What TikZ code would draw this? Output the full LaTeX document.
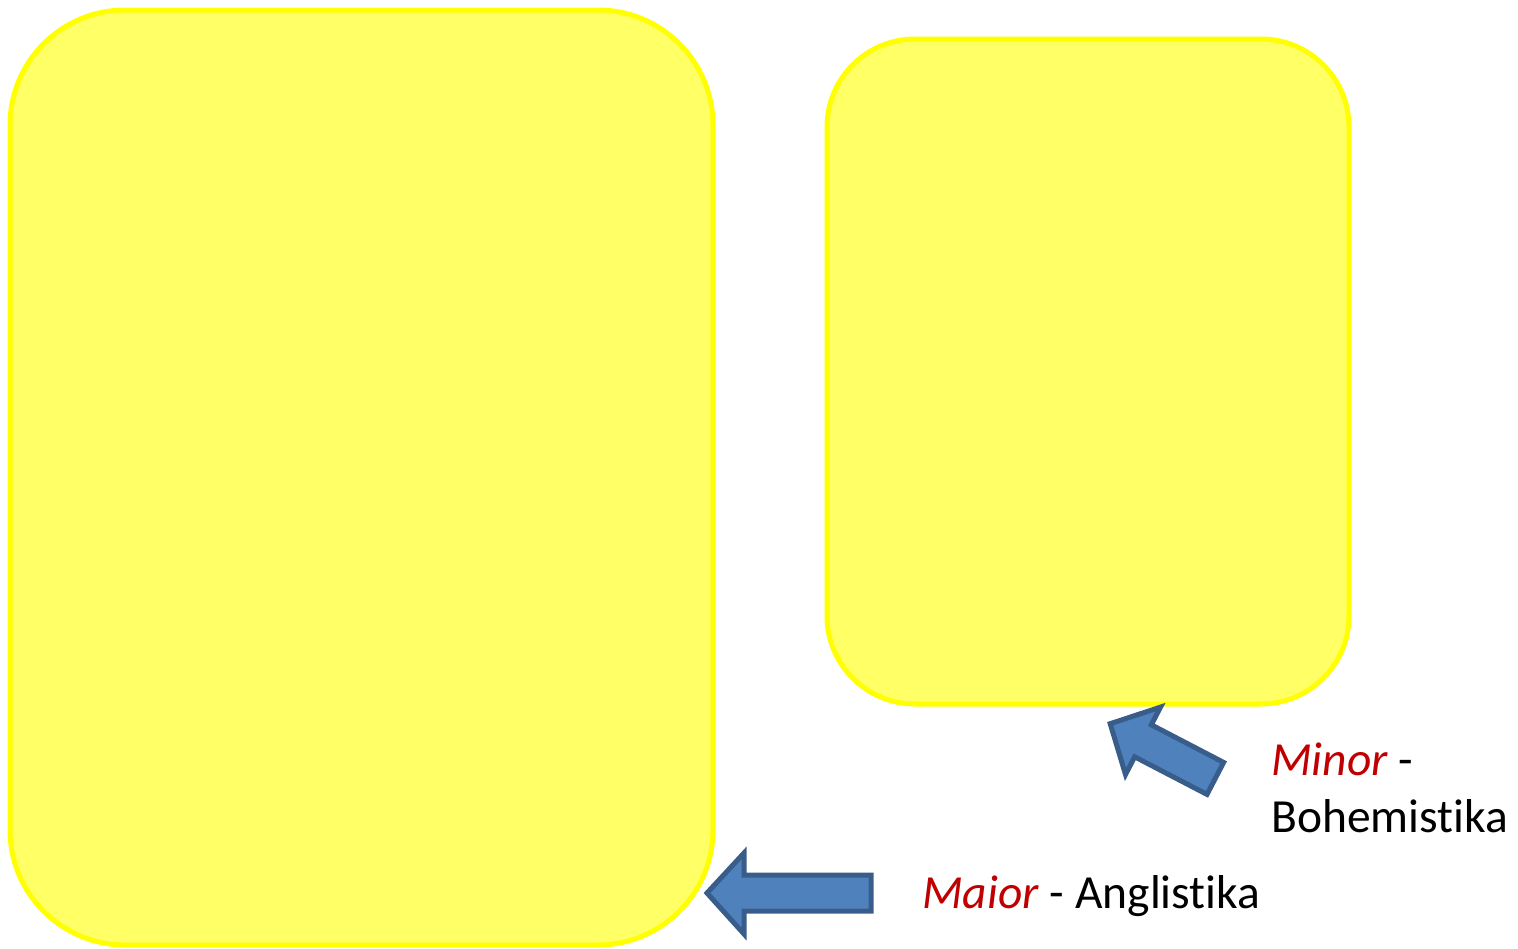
\documentclass[tikz,border=0pt]{standalone}
\usepackage{fontspec}
\setmainfont[Ligatures=NoCommon]{Carlito}
\definecolor{boxfill}{HTML}{FFFF66}
\definecolor{boxline}{HTML}{FFFF00}
\definecolor{arrfill}{HTML}{4F81BD}
\definecolor{arrline}{HTML}{385D8A}
\definecolor{labred}{HTML}{C00000}
\begin{document}
\begin{tikzpicture}[x=1pt,y=-1pt,
  yellowbox/.style={draw=boxline, fill=boxfill, line width=5pt, inner sep=0pt},
  blockarrow/.style={draw=arrline, fill=arrfill, line width=5pt, line join=miter},
  lab/.style={inner sep=0pt, anchor=base west, font=\fontsize{47.5}{57}\selectfont}]
\useasboundingbox (0,0) rectangle (1518,948);
\node[yellowbox, rounded corners=115pt, minimum width=703pt, minimum height=935pt] (major) at (361.5,477.5) {};
\node[yellowbox, rounded corners=88pt, minimum width=522pt, minimum height=665pt] (minorbox) at (1088,371.5) {};
% left arrow
\coordinate (ltip) at (707,893);
\draw[blockarrow] (ltip) -- (744,853) -- (744,875) -- (871,875) -- (871,911) -- (744,911) -- (744,934) -- cycle;
% upper right arrow
\coordinate (rtip) at (1110.2,723.7);
\draw[blockarrow] (rtip) -- (1160.5,707.1) -- (1151.3,724.8) -- (1223.6,762.4) -- (1207.0,794.4) -- (1134.7,756.8) -- (1125.5,774.5) -- cycle;
\node[lab] (minorlab) at (1271,775) {\textcolor{labred}{\textit{Minor}} -};
\node[lab] (bohem) at (1271,832) {Bohemistika};
\node[lab] (maiorlab) at (922,908) {\textcolor{labred}{\textit{Maior}} - Anglistika};
\end{tikzpicture}
\end{document}
